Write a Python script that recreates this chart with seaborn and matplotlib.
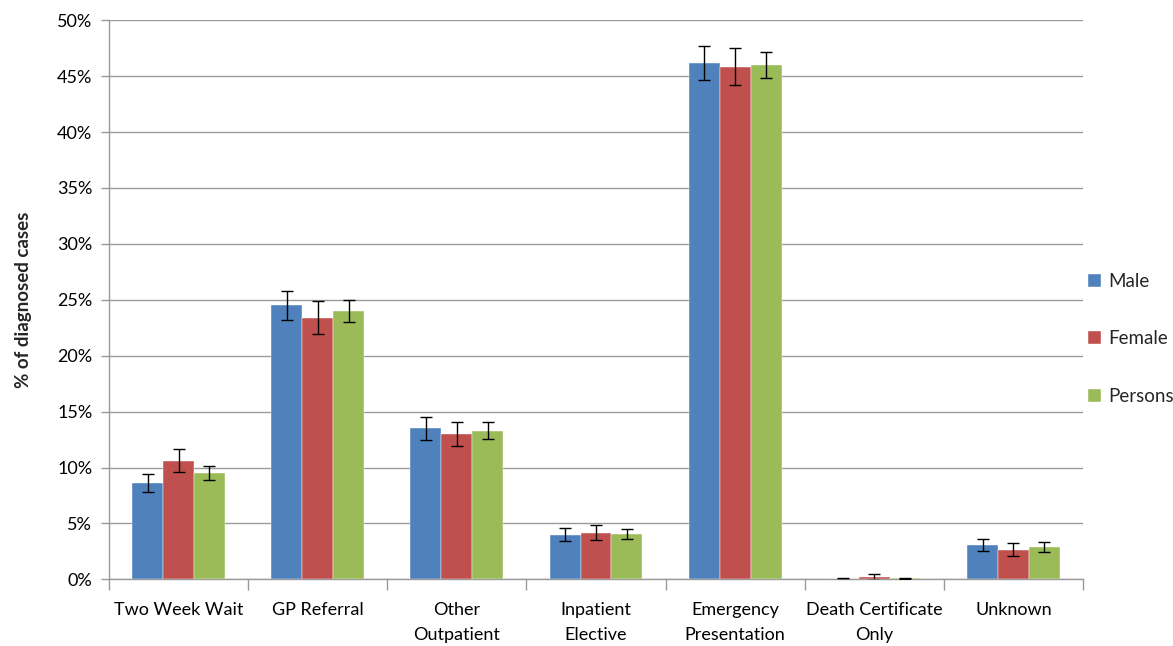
import numpy as np
import pandas as pd
import matplotlib
matplotlib.use("Agg")
import matplotlib.pyplot as plt
import seaborn as sns
from matplotlib.ticker import FixedLocator, NullFormatter, FuncFormatter

categories = ["Two Week Wait", "GP Referral", "Other\nOutpatient", "Inpatient\nElective",
              "Emergency\nPresentation", "Death Certificate\nOnly", "Unknown"]
series = ["Male", "Female", "Persons"]
male = [8.6, 24.5, 13.5, 4.0, 46.2, 0.03, 3.1]
female = [10.6, 23.4, 13.0, 4.15, 45.85, 0.2, 2.65]
persons = [9.5, 24.0, 13.3, 4.08, 46.0, 0.1, 2.9]
male_err = [0.83, 1.3, 1.03, 0.57, 1.5, 0.06, 0.55]
female_err = [1.03, 1.45, 1.05, 0.67, 1.67, 0.25, 0.57]
persons_err = [0.64, 0.95, 0.74, 0.45, 1.12, 0.06, 0.42]
colors = ["#4F81BD", "#C0504D", "#9BBB59"]
yticks = [0, 5, 10, 15, 20, 25, 30, 35, 40, 45, 50]

rows = []
for s, vals, errs in zip(series, [male, female, persons], [male_err, female_err, persons_err]):
    for c, v, e in zip(categories, vals, errs):
        rows.append({"category": c, "series": s, "value": v, "err": e})
df = pd.DataFrame(rows)

sns.set_theme(style="white")
plt.rcParams['font.family'] = ['Lato', 'DejaVu Sans']

fig = plt.figure(figsize=(11.73, 6.46), dpi=100)
ax = fig.add_axes([0.0929, 0.1032, 0.8304, 0.8654])

sns.barplot(data=df, x="category", y="value", hue="series", order=categories,
            hue_order=series, palette=colors, width=0.667, errorbar=None,
            saturation=1, ax=ax, zorder=3, edgecolor="white", linewidth=0.3)

# error bars from patches
for cont, s in zip(ax.containers, series):
    sub = df[df.series == s].set_index("category").loc[categories]
    xs = [p.get_x() + p.get_width() / 2 for p in cont.patches]
    ax.errorbar(xs, sub["value"].values, yerr=sub["err"].values, fmt="none",
                ecolor="black", elinewidth=1, capsize=4, capthick=1, zorder=4)

ax.set_ylim(0, 50)
ax.set_xlim(-0.5, len(categories) - 0.5)
ax.yaxis.set_major_locator(FixedLocator(yticks))
ax.yaxis.set_major_formatter(FuncFormatter(lambda v, p: f"{int(v)}%"))
ax.grid(axis="y", color="#9a9a9a", linewidth=1, zorder=0)
ax.set_axisbelow(True)

# category separators as major x ticks, labels as minor ticks
ax.xaxis.set_major_locator(FixedLocator(np.arange(-0.5, len(categories), 1.0)))
ax.xaxis.set_major_formatter(NullFormatter())
ax.xaxis.set_minor_locator(FixedLocator(np.arange(len(categories))))
ax.set_xticklabels(categories, minor=True, linespacing=1.7)
ax.tick_params(axis="x", which="major", length=8, color="#9a9a9a", width=1, direction="out", bottom=True)
ax.tick_params(axis="x", which="minor", length=0, labelsize=13, pad=16, colors="black")
ax.tick_params(axis="y", length=6, color="#9a9a9a", width=1, direction="out", left=True,
               labelsize=13, pad=6, labelcolor="black")

for side in ["top", "right"]:
    ax.spines[side].set_visible(False)
for side in ["left", "bottom"]:
    ax.spines[side].set_color("#9a9a9a")
    ax.spines[side].set_linewidth(1)

ax.set_xlabel("")
ax.set_ylabel("% of diagnosed cases", fontsize=13.5, fontweight="bold", labelpad=18)

handles, labels = ax.get_legend_handles_labels()
ax.legend(handles, labels, loc="center left", bbox_to_anchor=(0.997, 0.43), frameon=False,
          fontsize=13.5, handlelength=0.7, handleheight=0.7, handletextpad=0.4,
          labelspacing=2.15, borderaxespad=0)

fig.savefig("out.png", dpi=100)
